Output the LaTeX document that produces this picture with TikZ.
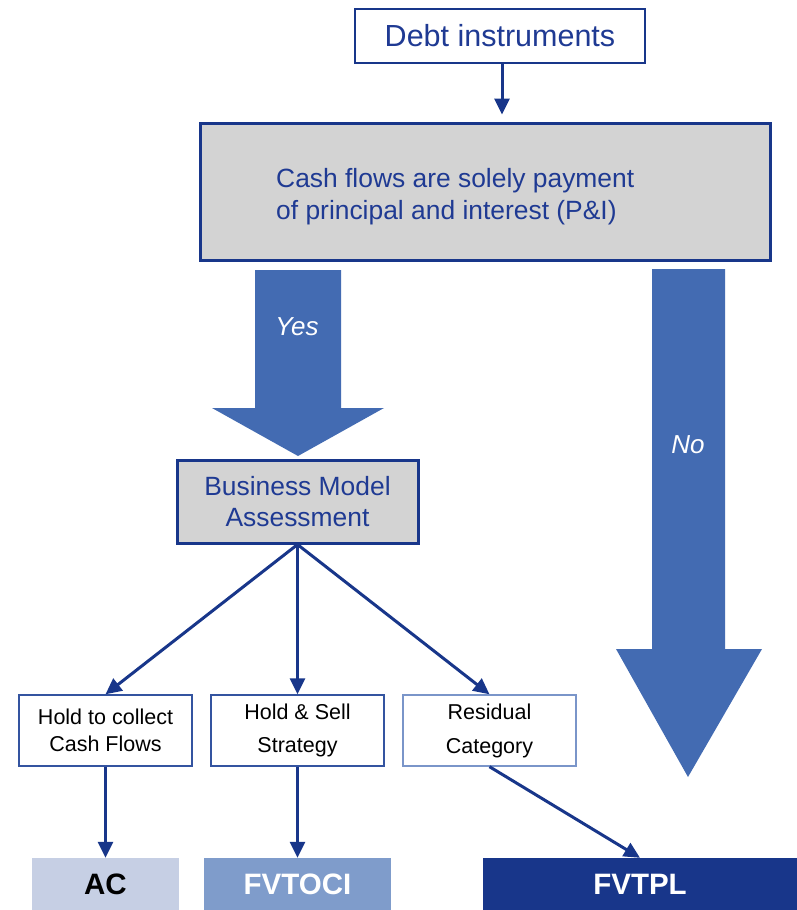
\documentclass[tikz,border=0pt]{standalone}
\usepackage{fontspec}
\setmainfont{Liberation Sans}
\usetikzlibrary{arrows.meta}

\definecolor{navy}{RGB}{24,54,138}
\definecolor{textblue}{RGB}{31,58,147}
\definecolor{boxgray}{RGB}{211,211,211}
\definecolor{bigblue}{RGB}{67,107,178}
\definecolor{midline}{RGB}{52,84,160}
\definecolor{lightline}{RGB}{122,149,201}
\definecolor{acfill}{RGB}{198,207,228}
\definecolor{ocifill}{RGB}{127,156,203}

\tikzset{
  flowbox/.style={draw=navy, line width=3pt, fill=boxgray, inner sep=0pt,
    text=textblue, align=center},
  choicebox/.style={draw=midline, line width=1.4pt, fill=white, inner sep=0pt,
    minimum width=173pt, minimum height=71pt, align=center,
    font=\fontsize{21.5}{27}\selectfont},
  resultbox/.style={inner sep=0pt, minimum height=52pt,
    font=\fontsize{29.5}{34}\selectfont\bfseries},
  link/.style={draw=navy, line width=3pt,
    -{Triangle[length=16pt,width=15pt]}},
  bigarrow/.style={fill=bigblue},
  arrowlabel/.style={text=white, font=\fontsize{26}{30}\selectfont\itshape}
}

\begin{document}
\begin{tikzpicture}[x=1pt,y=-1pt]
  \useasboundingbox (0,0) rectangle (797,910);

  % top question boxes
  \node[draw=navy, line width=1.3pt, fill=white, inner sep=0pt,
        minimum width=290pt, minimum height=54pt, text=textblue,
        font=\fontsize{30.5}{34}\selectfont] (debt) at (500,36) {Debt instruments};
  \node[flowbox, minimum width=570pt, minimum height=137pt] (cash) at (485,191.5) {};
  \node[text=textblue, anchor=west, align=left, inner sep=0pt,
        font=\fontsize{26.4}{32}\selectfont] (cashtext) at (276,197)
        {Cash flows are solely payment\\of principal and interest (P\&I)};

  % Yes / No block arrows
  \fill[bigarrow] (255,270) -- (341,270) -- (341,408) -- (384,408) -- (298,456)
        -- (212,408) -- (255,408) -- cycle;
  \node[arrowlabel] (yes) at (297,327) {Yes};
  \fill[bigarrow] (652,269) -- (725,269) -- (725,649) -- (762,649) -- (688,777)
        -- (616,649) -- (652,649) -- cycle;
  \node[arrowlabel] (no) at (688,445) {No};

  % business model assessment
  \node[flowbox, minimum width=241pt, minimum height=83pt,
        font=\fontsize{26.4}{31}\selectfont] (bma) at (297.5,501.5)
        {Business Model\\Assessment};

  % business model outcomes
  \node[choicebox] (htc) at (105.5,730.5) {Hold to collect\\Cash Flows};
  \node[choicebox, font=\fontsize{21.5}{33}\selectfont] (hs) at (297.5,730.5)
        {Hold \& Sell\\Strategy};
  \node[choicebox, draw=lightline, font=\fontsize{21.5}{34}\selectfont] (res) at (489.5,730.5)
        {Residual\\Category};

  % measurement categories
  \node[resultbox, fill=acfill, minimum width=147pt, text=black] (ac) at (105.5,884) {AC};
  \node[resultbox, fill=ocifill, minimum width=187pt, text=white] (oci) at (297.5,884) {FVTOCI};
  \node[resultbox, fill=navy, minimum width=314pt, text=white] (tpl) at (640,884) {FVTPL};

  % connectors
  \draw[link, shorten >=7pt] ([xshift=2pt]debt.south) -- ([xshift=2pt]debt.south |- cash.north);
  \draw[link] (bma.south) -- (htc.north);
  \draw[link] (bma.south) -- (hs.north);
  \draw[link] (bma.south) -- (res.north);
  \draw[link] (htc.south) -- (ac.north);
  \draw[link] (hs.south) -- (oci.north);
  \draw[link] (res.south) -- (tpl.north);
\end{tikzpicture}
\end{document}
